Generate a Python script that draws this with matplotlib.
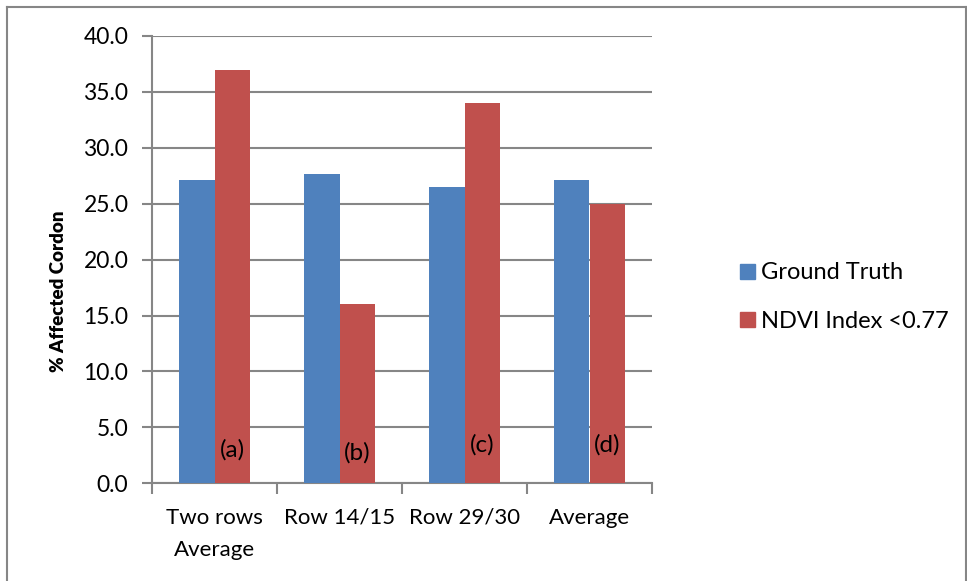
import matplotlib
matplotlib.use("Agg")
import matplotlib.pyplot as plt
from matplotlib.lines import Line2D
from matplotlib.patches import Patch
import numpy as np

categories = ["Two rows\nAverage", "Row 14/15", "Row 29/30", "Average"]
ground_truth = [27.1, 27.7, 26.5, 27.1]
ndvi_index = [37.0, 16.0, 34.0, 25.0]
panel_tags = ["(a)", "(b)", "(c)", "(d)"]
tag_heights = [3.0, 2.7, 3.4, 3.4]
series_names = ["Ground Truth", "NDVI Index <0.77"]
y_ticks = [0, 5, 10, 15, 20, 25, 30, 35, 40]

BLUE = "#4F81BD"
RED = "#C0504D"
GRID = "#868686"
FS = 16

plt.rcParams["font.family"] = ["Lato", "DejaVu Sans"]

W, H = 967, 581
fig = plt.figure(figsize=(W / 100, H / 100), dpi=100)

def fx(px):
    return px / W

def fy(py):
    return 1 - py / H

left, right, top, bottom = 152, 652, 36, 483.3
ax = fig.add_axes([fx(left), fy(bottom), fx(right - left), fy(top) - fy(bottom)])

x = np.arange(len(categories))
bw = 1 / 3.5
ax.bar(x - bw / 2, ground_truth, bw, color=BLUE, zorder=3, label=series_names[0])
ax.bar(x + bw / 2, ndvi_index, bw, color=RED, zorder=3, label=series_names[1])

for xi, tag, th in zip(x, panel_tags, tag_heights):
    ax.text(xi + bw / 2, th, tag, ha="center", va="center", fontsize=FS + 1.5, zorder=4)

ax.set_xlim(-0.5, len(categories) - 0.5)
ax.set_ylim(0, 40)
ax.set_yticks(y_ticks)
ax.set_yticklabels([f"{v:.1f}" for v in y_ticks])
ax.yaxis.grid(True, color=GRID, linewidth=1.5, zorder=0)
ax.set_axisbelow(True)

# category boundary ticks on the x axis
ax.set_xticks(np.arange(-0.5, len(categories), 1.0))
ax.set_xticklabels([])
ax.tick_params(axis="x", length=8, width=1.5, color=GRID, direction="out")
ax.tick_params(axis="y", length=7, width=1.5, color=GRID, direction="out",
               labelsize=FS + 0.5, pad=10)
for xi, lab in zip(x, categories):
    ax.text(xi, -2.2, lab, ha="center", va="top", fontsize=FS,
            linespacing=1.75, transform=ax.transData, clip_on=False)

for s in ["top", "right"]:
    ax.spines[s].set_visible(False)
for s in ["left", "bottom"]:
    ax.spines[s].set_color(GRID)
    ax.spines[s].set_linewidth(1.5)

ax.set_ylabel("% Affected Cordon", fontsize=13.5, fontweight="heavy")
ax.yaxis.set_label_coords(fx(67 - left) / (fx(right - left)),
                          (fy(291) - fy(bottom)) / (fy(top) - fy(bottom)))

handles = [Patch(color=BLUE), Patch(color=RED)]
fig.legend(handles, series_names, loc="center left",
           bbox_to_anchor=(fx(731), fy(297)), frameon=False, fontsize=FS + 1,
           handlelength=0.6, handleheight=0.6, handletextpad=0.25,
           labelspacing=1.15, borderaxespad=0)

# chart border
fig.add_artist(Line2D([fx(7), fx(7)], [fy(7), fy(585)], color=GRID, lw=1.5))
fig.add_artist(Line2D([fx(7), fx(966)], [fy(7), fy(7)], color=GRID, lw=1.5))
fig.add_artist(Line2D([fx(966), fx(966)], [fy(7), fy(585)], color=GRID, lw=1.5))

fig.savefig("out.png", dpi=100)
